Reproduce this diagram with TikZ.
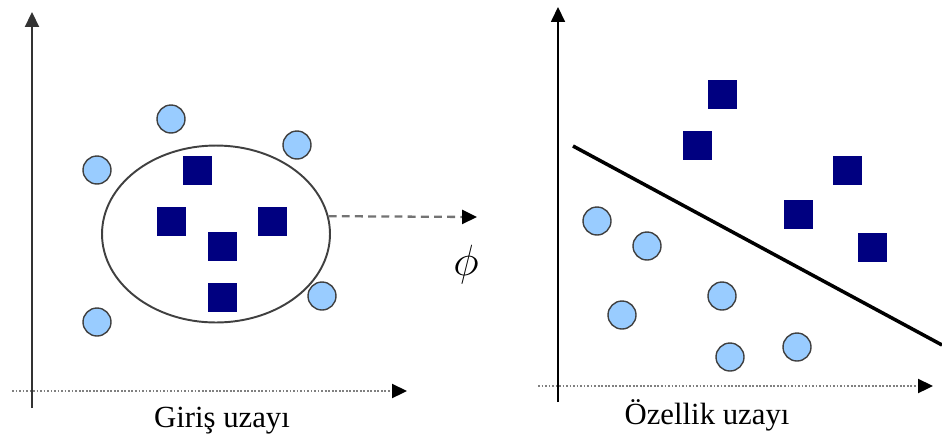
\documentclass[tikz,border=0pt]{standalone}
\usepackage{fontspec}
\setmainfont{Liberation Serif}
\usetikzlibrary{positioning,arrows.meta,shapes.geometric}
\definecolor{ptblue}{HTML}{99CCFF}
\definecolor{ptnavy}{HTML}{000080}
\tikzset{
  sqpt/.style={rectangle, fill=ptnavy, minimum size=0.58cm, inner sep=0pt},
  circpt/.style={circle, draw=black!75, fill=ptblue, line width=0.8pt,
                 minimum size=0.56cm, inner sep=0pt},
  yaxis/.style={-{Triangle[length=8.5pt,width=8pt]}, line width=1pt, black!80},
  xaxis/.style={-{Triangle[length=8.5pt,width=8pt,color=black]}, densely dotted,
                line width=1pt, gray},
  maparrow/.style={-{Triangle[length=8.5pt,width=8pt,color=black]},
                   dash pattern=on 4.5pt off 3pt, line width=1.3pt, black!55},
  lbl/.style={font=\fontsize{17.5}{20}\selectfont, inner sep=0pt},
}
\begin{document}
\begin{tikzpicture}[x=0.02cm, y=-0.02cm]
  \useasboundingbox (0,0) rectangle (942,444);
  % giris uzayi
  \coordinate (ys1) at (32,408);
  \coordinate (ye1) at (32,12);
  \coordinate (xs1) at (12,391);
  \coordinate (xe1) at (407,391);
  \draw[xaxis] (xs1) -- (xe1);
  \draw[yaxis] (ys1) -- (ye1);
  \node[ellipse, draw=black!75, line width=1.1pt, minimum width=4.56cm,
        minimum height=3.54cm] (ell) at (216,234) {};
  \foreach \x/\y [count=\i] in {197/170,171/221,272/221,222/246,222/297}
    \node[sqpt] (sa\i) at (\x,\y) {};
  \foreach \x/\y [count=\i] in {171/119,297/145,97/170,322/296,97/322}
    \node[circpt] (ca\i) at (\x,\y) {};
  \node[lbl] (lbl1) at (222,421) {Giriş uzayı};
  % phi
  \coordinate (phiend) at (477,217);
  \draw[maparrow] (ell.9) -- (phiend);
  \node[font=\fontsize{23}{26}\selectfont] (phi) at (466,265) {$\phi$};
  % ozellik uzayi
  \coordinate (ys2) at (558,402);
  \coordinate (ye2) at (558,7);
  \coordinate (xs2) at (538,386);
  \coordinate (xe2) at (933,386);
  \draw[xaxis] (xs2) -- (xe2);
  \draw[yaxis, line width=0.8pt, black] (ys2) -- (ye2);
  \foreach \x/\y [count=\i] in {722/94,697/145,847/170,798/214,872/247}
    \node[sqpt] (sb\i) at (\x,\y) {};
  \foreach \x/\y [count=\i] in {597/221,647/246,622/315,722/296,730/357,797/347}
    \node[circpt] (cb\i) at (\x,\y) {};
  \coordinate (hs) at (573,146);
  \coordinate (he) at (942,345);
  \draw[line width=2pt] (hs) -- (he);
  \node[lbl] (lbl2) at (707,415) {Özellik uzayı};
\end{tikzpicture}
\end{document}
